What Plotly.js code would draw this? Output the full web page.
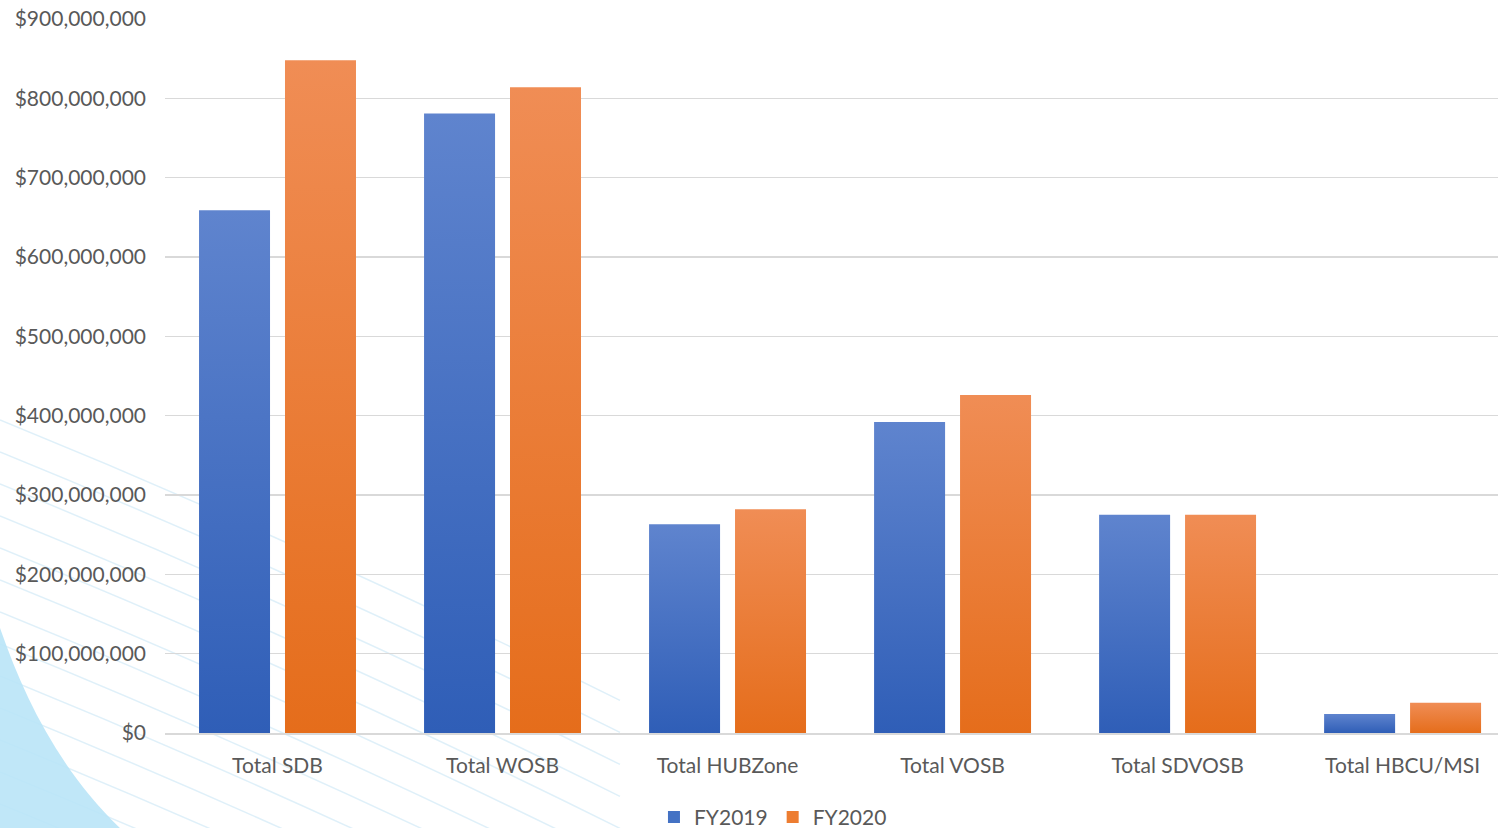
<!DOCTYPE html>
<html>
<head>
<meta charset="utf-8">
<script src="https://cdn.plot.ly/plotly-3.0.1.min.js"></script>
<style>html,body{margin:0;padding:0;background:#fff;}#chart{width:1498px;height:828px;}</style>
</head>
<body>
<div id="chart"></div>
<script>
const categories = ["Total SDB", "Total WOSB", "Total HUBZone", "Total VOSB", "Total SDVOSB", "Total HBCU/MSI"];
const fy2019 = [659000000, 781000000, 263000000, 392000000, 275000000, 24000000];
const fy2020 = [848000000, 814000000, 282000000, 426000000, 275000000, 38000000];
const seriesNames = ["FY2019", "FY2020"];
const yTickVals = [0, 100000000, 200000000, 300000000, 400000000, 500000000, 600000000, 700000000, 800000000, 900000000];
const yTickText = ["$0", "$100,000,000", "$200,000,000", "$300,000,000", "$400,000,000", "$500,000,000", "$600,000,000", "$700,000,000", "$800,000,000", "$900,000,000"];

const fontFam = "Lato, 'Open Sans', sans-serif";
const traces = [
  {type: "bar", name: seriesNames[0], x: categories, y: fy2019, marker: {color: "#4472C4"}, hoverinfo: "skip"},
  {type: "bar", name: seriesNames[1], x: categories, y: fy2020, marker: {color: "#ED7D31"}, hoverinfo: "skip"}
];

// decorative background swirl (pixel -> paper helper for decoration only)
const L = 165, T = 19, PW = 1333, PH = 714;
function px(x){ return ((x - L) / PW).toFixed(4); }
function py(y){ return ((T + PH - y) / PH).toFixed(4); }
const shapes = [];
const lineStarts = [420, 452, 484, 516, 548, 580, 612, 644, 676, 708, 740, 772, 804];
lineStarts.forEach(function(y0, i){
  const len = 620;
  const x1 = len, y1 = y0 + 0.42 * len + 20;
  shapes.push({type: "path", xref: "paper", yref: "paper", layer: "below",
    path: "M " + px(0) + " " + py(y0) + " Q " + px(x1 * 0.5) + " " + py(y0 + (y1 - y0) * 0.45) + " " + px(x1) + " " + py(y1),
    line: {color: "rgba(175,218,240,0.4)", width: 1.5}});
});
shapes.push({type: "path", xref: "paper", yref: "paper", layer: "below",
   path: "M " + px(0) + " " + py(628) + " C " + px(25) + " " + py(700) + ", " + px(60) + " " + py(770) + ", " + px(120) + " " + py(828) + " L " + px(0) + " " + py(828) + " Z",
   fillcolor: "rgba(185,228,247,0.9)", line: {width: 0}});

const layout = {
  width: 1498, height: 828,
  margin: {l: 165, r: 0, t: 19, b: 95},
  paper_bgcolor: "rgba(0,0,0,0)", plot_bgcolor: "rgba(0,0,0,0)",
  barmode: "group", bargap: 0.236, bargroupgap: 0.174,
  font: {family: fontFam, color: "#595959", size: 21},
  xaxis: {
    range: [-0.5, 5.424],
    showgrid: false, showline: true, linecolor: "#d9d9d9", linewidth: 2,
    ticks: "", tickfont: {size: 21, color: "#595959"}, ticklabelstandoff: 13
  },
  yaxis: {
    range: [0, 900000000], tickmode: "array", tickvals: yTickVals, ticktext: yTickText,
    showgrid: true, gridcolor: "#d9d9d9", gridwidth: 1.5, zeroline: false,
    ticks: "", tickfont: {size: 21, color: "#595959"}, ticklabelstandoff: 18
  },
  showlegend: true,
  legend: {
    orientation: "h", xref: "container", yref: "container", x: 0.516, y: 0.013,
    xanchor: "center", yanchor: "middle", font: {size: 21, color: "#595959"},
    itemwidth: 30, traceorder: "normal", bgcolor: "rgba(0,0,0,0)"
  },
  shapes: shapes
};

Plotly.newPlot("chart", traces, layout, {staticPlot: true}).then(function(gd){
  const svg = gd.querySelector("svg.main-svg");
  const ns = "http://www.w3.org/2000/svg";
  let defs = svg.querySelector("defs");
  if (!defs) { defs = document.createElementNS(ns, "defs"); svg.insertBefore(defs, svg.firstChild); }
  function grad(id, top, bottom){
    const g = document.createElementNS(ns, "linearGradient");
    g.setAttribute("id", id); g.setAttribute("x1","0"); g.setAttribute("y1","0"); g.setAttribute("x2","0"); g.setAttribute("y2","1");
    [[0, top],[1, bottom]].forEach(function(s){
      const st = document.createElementNS(ns, "stop");
      st.setAttribute("offset", s[0]); st.setAttribute("stop-color", s[1]);
      g.appendChild(st);
    });
    defs.appendChild(g);
  }
  grad("gBlue", "#5f84ce", "#2f5eb7");
  grad("gOrange", "#f08d55", "#e56d1b");
  const ids = ["gBlue", "gOrange"];
  gd.querySelectorAll(".barlayer .trace").forEach(function(t, i){
    t.querySelectorAll("path").forEach(function(p){ p.style.fill = "url(#" + ids[i] + ")"; });
  });
});
</script>
</body>
</html>
